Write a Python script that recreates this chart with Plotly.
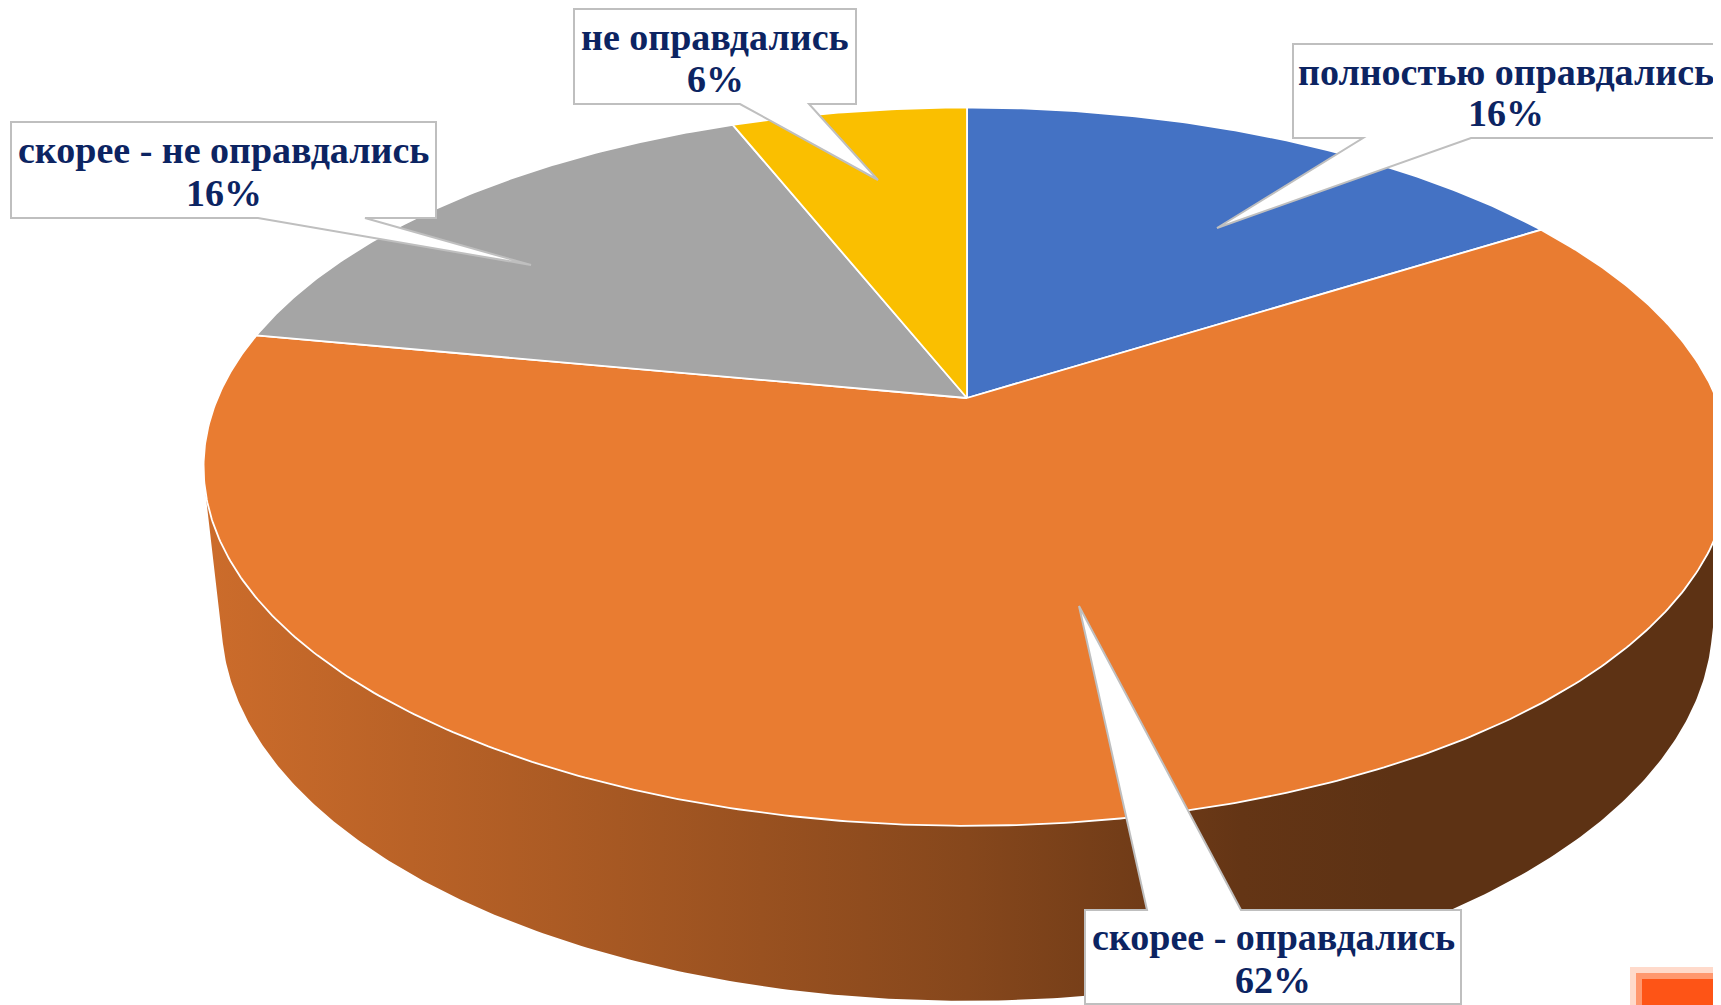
import numpy as np
import plotly.graph_objects as go

# ---------------- data ----------------
labels = ["полностью оправдались", "скорее - оправдались", "скорее - не оправдались", "не оправдались"]
values = [16, 62, 16, 6]
colors = ["#4472C4", "#E97C31", "#A5A5A5", "#FABF00"]

# ---------------- 3D projection (pixel space) ----------------
W, H = 1721, 1005
OFF = 8                      # page body margin compensation
CX, CY = 967.0, 398.0        # screen position of pie centre
F = 3477.0                   # focal length (px)
D = 4.64                     # camera distance (in pie radii)
ALPHA = np.radians(27.5)     # camera elevation
THICK = 0.234                # pie thickness (in pie radii)


def proj(theta_deg, r=1.0, z=0.0):
    t = np.radians(np.asarray(theta_deg, dtype=float))
    X = r * np.sin(t)
    Y = r * np.cos(t)
    depth = D + Y * np.cos(ALPHA) - z * np.sin(ALPHA)
    x = CX + F * X / depth
    y = CY - F * (Y * np.sin(ALPHA) + z * np.cos(ALPHA)) / depth
    return x, y


def hex_rgb(h):
    h = h.lstrip("#")
    return tuple(int(h[i:i + 2], 16) for i in (0, 2, 4))


def shade(h, f):
    r, g, b = hex_rgb(h)
    return "rgb(%d,%d,%d)" % (round(r * f), round(g * f), round(b * f))


fig = go.Figure()

total = float(sum(values))
bounds = []
acc = 0.0
for v in values:
    a = acc / total * 360.0
    acc += v
    b = acc / total * 360.0
    bounds.append((a, b))

# visible side wall range (front of the cylinder)
ts = np.degrees(np.arccos(-1.0 / (D * np.cos(ALPHA))))
vis_a, vis_b = ts, 360.0 - ts

for (a, b), col in zip(bounds, colors):
    lo, hi = max(a, vis_a), min(b, vis_b)
    if hi <= lo:
        continue
    th = np.linspace(lo, hi, int((hi - lo) / 0.5) + 2)
    xt, yt = proj(th, 1.0, 0.0)
    xb, yb = proj(th[::-1], 1.0, -THICK)
    xs = np.concatenate([xt, xb, xt[:1]])
    ys = np.concatenate([yt, yb, yt[:1]])
    fig.add_trace(go.Scatter(
        x=xs, y=ys, mode="lines", fill="toself",
        line=dict(width=0, color="rgba(0,0,0,0)"),
        fillgradient=dict(
            type="horizontal", start=205, stop=1730,
            colorscale=[[0.0, shade(col, 0.875)], [0.5, shade(col, 0.575)],
                        [0.68, shade(col, 0.43)], [0.78, shade(col, 0.40)],
                        [1.0, shade(col, 0.40)]]),
        hoverinfo="skip", showlegend=False))

# top faces
for (a, b), col in zip(bounds, colors):
    th = np.linspace(a, b, int((b - a) / 0.5) + 2)
    xa, ya = proj(th, 1.0, 0.0)
    x0, y0 = proj(0.0, 0.0, 0.0)
    xs = np.concatenate([[x0], xa, [x0]])
    ys = np.concatenate([[y0], ya, [y0]])
    fig.add_trace(go.Scatter(
        x=xs, y=ys, mode="lines", fill="toself", fillcolor=col,
        line=dict(width=1.8, color="white"),
        hoverinfo="skip", showlegend=False))

# ---------------- callouts ----------------
callouts = {
    3: dict(box=(574, 856, 9, 104), base=(740, 809), side="bottom", tip=(878, 180), ly=(37, 79)),
    0: dict(box=(1293, 1719, 44, 138), base=(1363, 1471), side="bottom", tip=(1217, 228), ly=(72, 113)),
    2: dict(box=(11, 436, 122, 218), base=(258, 365), side="bottom", tip=(531, 265), ly=(149.5, 192.5)),
    1: dict(box=(1085, 1461, 910, 1004), base=(1147, 1241), side="top", tip=(1079, 606), ly=(937, 980)),
}

shapes = []
annotations = []
for i, c in callouts.items():
    x0, x1, y0, y1 = c["box"]
    b1, b2 = c["base"]
    tx, ty = c["tip"]
    if c["side"] == "bottom":
        path = (f"M {x0},{y0} L {x1},{y0} L {x1},{y1} L {b2},{y1} L {tx},{ty} "
                f"L {b1},{y1} L {x0},{y1} Z")
    else:
        path = (f"M {x0},{y0} L {b1},{y0} L {tx},{ty} L {b2},{y0} L {x1},{y0} "
                f"L {x1},{y1} L {x0},{y1} Z")
    shapes.append(dict(type="path", path=path, xref="x", yref="y",
                       fillcolor="white", line=dict(color="#BFBFBF", width=2),
                       layer="above"))
    xc = (x0 + x1) / 2.0
    for txt, yy in zip([labels[i], f"{values[i]}%"], c["ly"]):
        annotations.append(dict(
            x=xc, y=yy, xref="x", yref="y", text=f"<b>{txt}</b>", showarrow=False,
            xanchor="center", yanchor="middle",
            font=dict(family="Times New Roman, Liberation Serif, serif", size=38, color="#0C2462")))

# decorative orange corner element (slide background)
shapes.append(dict(type="rect", xref="x", yref="y", x0=1630, x1=1730, y0=967, y1=1012,
                   fillcolor="rgba(255,85,20,0.22)", line=dict(width=0), layer="above"))
shapes.append(dict(type="rect", xref="x", yref="y", x0=1636, x1=1730, y0=973, y1=1012,
                   fillcolor="rgba(255,85,20,0.5)", line=dict(width=0), layer="above"))
shapes.append(dict(type="rect", xref="x", yref="y", x0=1642, x1=1730, y0=979, y1=1012,
                   fillcolor="#FE5416", line=dict(width=0), layer="above"))

fig.update_layout(
    width=W - OFF, height=H - OFF,
    margin=dict(l=0, r=0, t=0, b=0),
    paper_bgcolor="white", plot_bgcolor="white",
    xaxis=dict(range=[OFF, W], visible=False, fixedrange=True),
    yaxis=dict(range=[H, OFF], visible=False, fixedrange=True),
    shapes=shapes, annotations=annotations, showlegend=False,
)

fig.write_html("out.html")
